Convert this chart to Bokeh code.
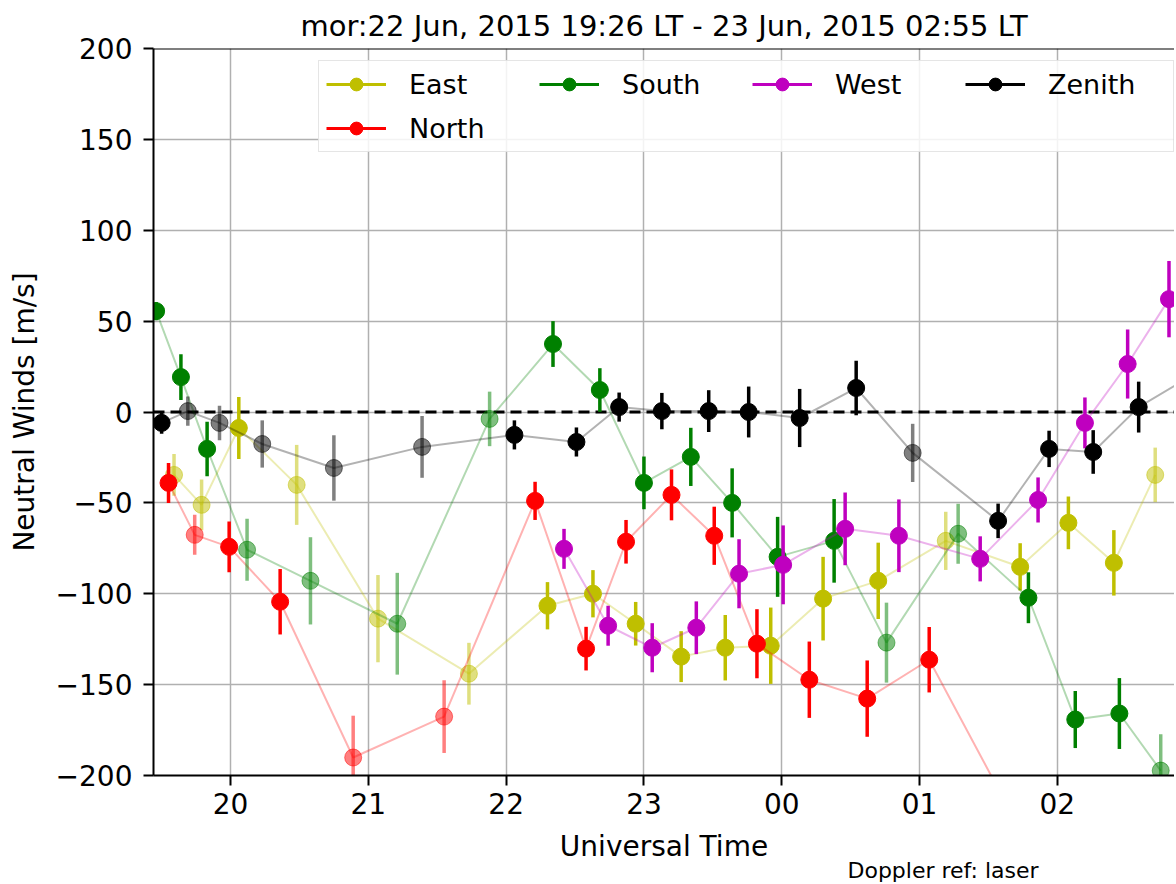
from bokeh.plotting import figure
from bokeh.models import (ColumnDataSource, Range1d, FixedTicker, Span, Legend,
                          LegendItem, Title)
from bokeh.embed import file_html
from bokeh.resources import INLINE

# ---------------- data ----------------
TITLE = "mor:22 Jun, 2015 19:26 LT - 23 Jun, 2015 02:55 LT"
X_LABEL = "Universal Time"
Y_LABEL = "Neutral Winds [m/s]"
NOTE = "Doppler ref: laser"

x_tick_values = [20, 21, 22, 23, 24, 25, 26]
x_tick_labels = ["20", "21", "22", "23", "00", "01", "02"]
y_tick_values = [-200, -150, -100, -50, 0, 50, 100, 150, 200]
y_tick_labels = ["\u2212200", "\u2212150", "\u2212100", "\u221250", "0", "50", "100", "150", "200"]

# time in hours UT (values past 24 are the next day), wind [m/s], 1-sigma error, quality flag
east_time = [19.59, 19.79, 20.06, 20.48, 21.07, 21.73, 22.30, 22.63, 22.94, 23.27,
             23.59, 23.92, 24.30, 24.70, 25.19, 25.73, 26.08, 26.41, 26.71]
east_wind = [-34.6, -51.1, -8.8, -40.1, -113.7, -144.0, -106.6, -100.0, -116.5, -134.6,
             -129.7, -128.6, -102.7, -92.9, -70.9, -85.2, -61.0, -83.0, -34.6]
east_err = [11.5, 14, 17, 22, 24, 17, 13, 13, 12, 14, 18, 21, 23, 21, 16, 13, 14.5, 18, 15]
east_flag = [1, 1, 0, 1, 1, 1, 0, 0, 0, 0, 0, 0, 0, 0, 1, 0, 0, 0, 1]

north_time = [19.55, 19.74, 19.99, 20.36, 20.89, 21.55, 22.21, 22.58, 22.87, 23.20,
              23.51, 23.82, 24.20, 24.62, 25.07, 25.66]
north_wind = [-39.0, -67.6, -74.2, -104.4, -190.1, -167.6, -48.9, -130.2, -71.4, -45.6,
              -68.1, -127.5, -147.3, -157.7, -136.3, -220.0]
north_err = [11, 11, 14, 18, 23, 20, 10.5, 12, 12, 14, 16, 19, 21, 21, 18, 20]
north_flag = [0, 1, 0, 0, 1, 1, 0, 0, 0, 0, 0, 0, 0, 0, 0, 0]

south_time = [19.46, 19.64, 19.83, 20.12, 20.58, 21.21, 21.88, 22.34, 22.68, 23.00,
              23.34, 23.64, 23.97, 24.38, 24.76, 25.28, 25.79, 26.13, 26.45, 26.75]
south_wind = [55.5, 19.2, -20.3, -75.8, -92.9, -116.5, -3.8, 37.4, 12.1, -39.0,
              -24.7, -50.0, -79.7, -70.9, -126.9, -67.0, -102.2, -169.2, -165.9, -197.3]
south_err = [5, 12.6, 15, 17, 24, 28, 15, 12.6, 12, 14.5, 16, 19, 22, 23, 22, 16.5,
             14, 15.7, 19.5, 20]
south_flag = [0, 0, 0, 1, 1, 1, 1, 0, 0, 0, 0, 0, 0, 0, 1, 1, 0, 0, 0, 1]

west_time = [22.42, 22.74, 23.06, 23.38, 23.69, 24.01, 24.46, 24.85, 25.44, 25.86,
             26.20, 26.51, 26.81]
west_wind = [-75.3, -117.6, -129.7, -118.7, -89.0, -84.1, -64.3, -68.1, -80.8, -48.4,
             -6.0, 26.4, 62.1]
west_err = [11, 11, 13.5, 14.5, 19, 21.7, 20, 20, 12.4, 12.4, 14, 19, 21]
west_flag = [0, 0, 0, 0, 0, 0, 0, 0, 0, 0, 0, 0, 0]

zenith_time = [19.50, 19.69, 19.92, 20.23, 20.75, 21.39, 22.06, 22.51, 22.82, 23.13,
               23.47, 23.76, 24.13, 24.54, 24.95, 25.57, 25.94, 26.26, 26.59, 26.92]
zenith_wind = [-6.0, 0.5, -6.0, -17.6, -30.8, -19.2, -12.6, -16.5, 2.7, 0.5,
               0.5, 0.0, -3.3, 13.2, -22.5, -59.9, -20.3, -22.0, 2.7, 17.6]
zenith_err = [6, 8, 9.5, 13, 18, 17, 8, 8, 8, 10, 11.5, 14, 16, 15, 16, 9.5, 10, 12, 14, 15]
zenith_flag = [0, 1, 1, 1, 1, 1, 0, 0, 0, 0, 0, 0, 0, 0, 1, 0, 0, 0, 0, 0]

series = [
    ("East", "#bfbf00", east_time, east_wind, east_err, east_flag),
    ("North", "#ff0000", north_time, north_wind, north_err, north_flag),
    ("South", "#008000", south_time, south_wind, south_err, south_flag),
    ("West", "#bf00bf", west_time, west_wind, west_err, west_flag),
    ("Zenith", "#000000", zenith_time, zenith_wind, zenith_err, zenith_flag),
]
legend_order = ["East", "South", "West", "Zenith", "North"]

FLAG_ALPHA = {0: 1.0, 1: 0.5, 2: 0.25}
FONT = "DejaVu Sans"
FS = "28px"

# ---------------- figure ----------------
p = figure(width=1174, height=883, output_backend="svg", toolbar_location=None,
           x_range=Range1d(19.441, 26.850), y_range=Range1d(-200, 200),
           min_border_left=153, min_border_right=0, min_border_top=47,
           min_border_bottom=108, title=TITLE)
p.outline_line_color = None
p.background_fill_color = "white"
p.border_fill_color = "white"

p.title.text_font = FONT
p.title.text_font_size = "29px"
p.title.text_font_style = "normal"
p.title.text_color = "black"
p.title.align = "center"
p.title.standoff = 12

p.xaxis.ticker = FixedTicker(ticks=x_tick_values)
p.xaxis.major_label_overrides = dict(zip(x_tick_values, x_tick_labels))
p.yaxis.ticker = FixedTicker(ticks=y_tick_values)
p.yaxis.major_label_overrides = dict(zip(y_tick_values, y_tick_labels))
p.xaxis.axis_label = X_LABEL
p.yaxis.axis_label = Y_LABEL

for ax in (p.xaxis[0], p.yaxis[0]):
    ax.axis_line_width = 2
    ax.axis_line_color = "black"
    ax.major_tick_line_width = 2
    ax.major_tick_line_color = "black"
    ax.major_tick_out = 10
    ax.major_tick_in = 0
    ax.minor_tick_line_color = None
    ax.major_label_text_font = FONT
    ax.major_label_text_font_size = FS
    ax.major_label_text_color = "black"
    ax.axis_label_text_font = FONT
    ax.axis_label_text_font_size = FS
    ax.axis_label_text_font_style = "normal"
    ax.axis_label_text_color = "black"
p.xaxis.major_label_standoff = 7
p.xaxis.axis_label_standoff = 13
p.yaxis.major_label_standoff = 11
p.yaxis.axis_label_standoff = 12

for g in (p.xgrid[0], p.ygrid[0]):
    g.grid_line_color = "#b0b0b0"
    g.grid_line_width = 1.5

p.add_layout(Span(location=0, dimension="width", line_color="black",
                  line_width=3, line_dash="11 6", level="underlay"))
p.add_layout(Span(location=200, dimension="width", line_color="black",
                  line_width=2))

legend_items = {}
for name, color, t, w, e, f in series:
    src = ColumnDataSource(dict(
        t=t, w=w,
        lo=[wi - ei for wi, ei in zip(w, e)],
        hi=[wi + ei for wi, ei in zip(w, e)],
        a=[FLAG_ALPHA[fi] for fi in f]))
    p.line("t", "w", source=src, line_color=color, line_alpha=0.3, line_width=2)
    p.segment(x0="t", y0="lo", x1="t", y1="hi", source=src, line_color=color,
              line_alpha="a", line_width=3.5)
    p.scatter("t", "w", source=src, size=17, marker="circle", fill_color=color,
              line_color=color, fill_alpha="a", line_alpha="a")
    # hidden, full-strength copies used only to draw the legend glyphs
    lr = p.line("t", "w", source=src, line_color=color, line_width=3, visible=False)
    mr = p.scatter("t", "w", source=src, size=17, marker="circle",
                   fill_color=color, line_color=color, visible=False)
    legend_items[name] = LegendItem(label=name, renderers=[lr, mr])

legend = Legend(items=[legend_items[n] for n in legend_order], ncols=4,
                orientation="horizontal", location=(165, 623),
                label_text_font=FONT, label_text_font_size="27px",
                label_text_color="black",
                glyph_width=60, glyph_height=32, label_height=32,
                label_width=118, label_standoff=23, spacing=12, padding=7,
                margin=0, border_line_color="#cccccc", border_line_width=1.5,
                background_fill_color="white", background_fill_alpha=0.85)
p.add_layout(legend, "center")

note = Title(text=NOTE, align="left", offset=694, text_font=FONT,
             text_font_size="22px", text_font_style="normal", text_color="black",
             vertical_align="top")
try:
    note.standoff = -15
except Exception:
    note.standoff = 0
p.add_layout(note, "below")

open("out.html", "w").write(file_html(p, INLINE))
